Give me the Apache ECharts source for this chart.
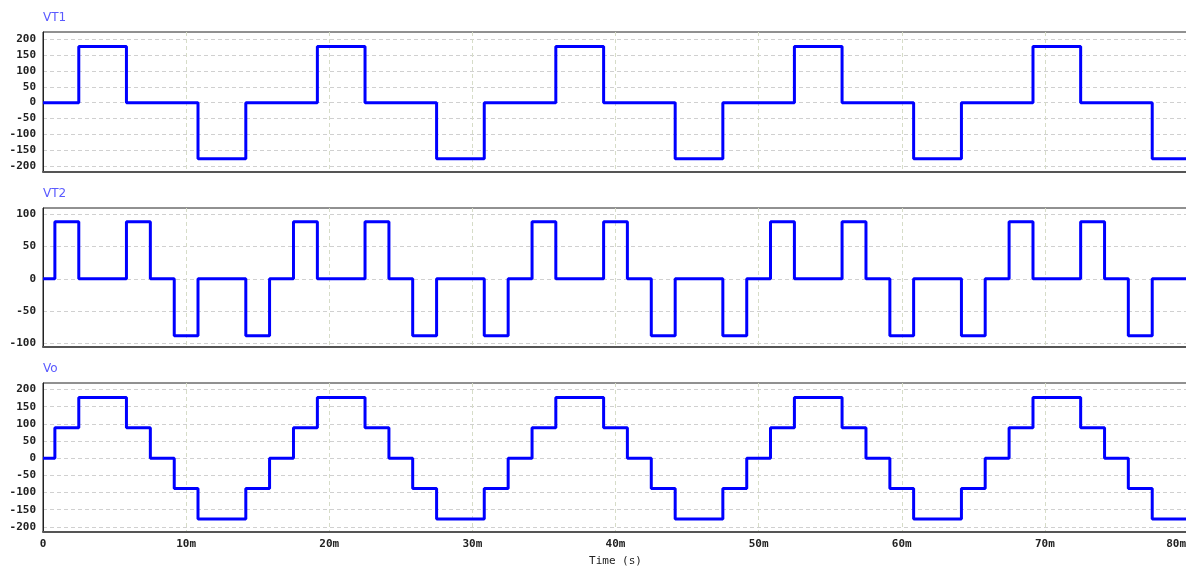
<!DOCTYPE html>
<html>
<head>
<meta charset="utf-8">
<script src="https://cdn.jsdelivr.net/npm/echarts@6/dist/echarts.min.js"></script>
<style>
    html, body { margin: 0; padding: 0; background: #fff; }
    #chart { width: 1186px; height: 567px; }
</style>
</head>
<body>
<div id="chart"></div>
<script>
// time in ms, value in V (step changes)
const vt1Time = [0, 2.5, 5.83, 10.83, 14.17, 19.17, 22.5, 27.5, 30.83, 35.83, 39.17, 44.17, 47.5, 52.5, 55.83, 60.83, 64.17, 69.17, 72.5, 77.5, 80];
const vt1Value = [0, 177, 0, -177, 0, 177, 0, -177, 0, 177, 0, -177, 0, 177, 0, -177, 0, 177, 0, -177, -177];

const stepTime = [0, 0.83, 2.5, 5.83, 7.5, 9.17, 10.83, 14.17, 15.83,
    17.5, 19.17, 22.5, 24.17, 25.83, 27.5, 30.83, 32.5,
    34.17, 35.83, 39.17, 40.83, 42.5, 44.17, 47.5, 49.17,
    50.83, 52.5, 55.83, 57.5, 59.17, 60.83, 64.17, 65.83,
    67.5, 69.17, 72.5, 74.17, 75.83, 77.5, 80];
const vt2Value = [0, 88.5, 0, 88.5, 0, -88.5, 0, -88.5, 0,
    88.5, 0, 88.5, 0, -88.5, 0, -88.5, 0,
    88.5, 0, 88.5, 0, -88.5, 0, -88.5, 0,
    88.5, 0, 88.5, 0, -88.5, 0, -88.5, 0,
    88.5, 0, 88.5, 0, -88.5, 0, 0];
const voValue = [0, 88.5, 177, 88.5, 0, -88.5, -177, -88.5, 0,
    88.5, 177, 88.5, 0, -88.5, -177, -88.5, 0,
    88.5, 177, 88.5, 0, -88.5, -177, -88.5, 0,
    88.5, 177, 88.5, 0, -88.5, -177, -88.5, 0,
    88.5, 177, 88.5, 0, -88.5, -177, -177];

const titles = ['VT1', 'VT2', 'Vo'];
const yTicks1 = [-200, -150, -100, -50, 0, 50, 100, 150, 200];
const yTicks2 = [-100, -50, 0, 50, 100];
const yTicks3 = [-200, -150, -100, -50, 0, 50, 100, 150, 200];

const mono = 'DejaVu Sans Mono';
const grids = [
    { left: 43, right: -2, top: 32, height: 140 },
    { left: 43, right: -2, top: 208, height: 139 },
    { left: 43, right: -2, top: 383, height: 149 }
];
const yRanges = [[-219, 223], [-106, 110], [-215, 219]];
const yTicks = [yTicks1, yTicks2, yTicks3];
const titleTops = [12, 188, 363];

const pairs = (t, v) => t.map((x, i) => [x, v[i]]);
const seriesData = [pairs(vt1Time, vt1Value), pairs(stepTime, vt2Value), pairs(stepTime, voValue)];

const option = {
    animation: false,
    title: titles.map((t, i) => ({
        text: t,
        left: 43,
        top: titleTops[i],
        padding: 0,
        textStyle: { color: '#5a5aff', fontSize: 12, fontWeight: 'normal', fontFamily: 'DejaVu Sans' }
    })),
    grid: grids.map(g => Object.assign({
        show: true,
        borderColor: '#222',
        borderWidth: 1,
        containLabel: false,
        outerBoundsMode: 'none'
    }, g)),
    xAxis: grids.map((g, i) => ({
        type: 'value',
        gridIndex: i,
        min: 0,
        max: 80,
        interval: 10,
        axisLine: { show: true, onZero: false, lineStyle: { color: '#555', width: 2 } },
        axisTick: { show: false },
        axisLabel: {
            show: i === 2,
            margin: 7,
            color: '#222',
            fontFamily: mono,
            fontSize: 11,
            fontWeight: 'bold',
            alignMaxLabel: 'right',
            formatter: v => (v === 0 ? '0' : v === 80 ? '{e|80m}' : v + 'm'),
            rich: {
                e: { fontFamily: mono, fontSize: 11, fontWeight: 'bold', color: '#222', padding: [0, 2, 0, 0] }
            }
        },
        splitLine: { show: true, lineStyle: { color: '#d6dcc8', type: [4, 3], width: 1 } },
        name: i === 2 ? 'Time (s)' : '',
        nameLocation: 'middle',
        nameGap: 24,
        nameTextStyle: { color: '#222', fontFamily: mono, fontSize: 11 }
    })),
    yAxis: grids.map((g, i) => ({
        type: 'value',
        gridIndex: i,
        min: yRanges[i][0],
        max: yRanges[i][1],
        axisLine: { show: true, onZero: false, lineStyle: { color: '#222', width: 1 } },
        axisTick: { show: false, customValues: yTicks[i] },
        axisLabel: {
            customValues: yTicks[i],
            margin: 7,
            color: '#222',
            fontFamily: mono,
            fontSize: 11,
            fontWeight: 'bold'
        },
        splitLine: { show: true, lineStyle: { color: '#d0d0d0', type: [4, 3], width: 1 } }
    })),
    series: seriesData.map((d, i) => ({
        type: 'line',
        step: 'end',
        xAxisIndex: i,
        yAxisIndex: i,
        data: d,
        showSymbol: false,
        lineStyle: { color: '#0000ff', width: 3 }
    }))
};

const chart = echarts.init(document.getElementById('chart'));
chart.setOption(option);
</script>
</body>
</html>
